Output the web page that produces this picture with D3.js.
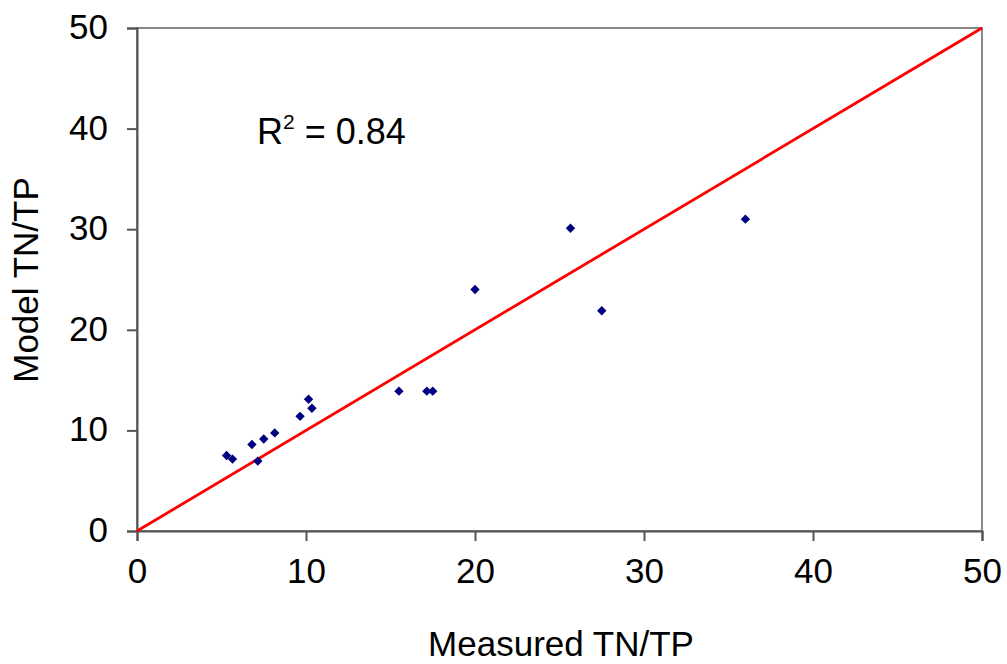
<!DOCTYPE html>
<html><head><meta charset="utf-8">
<script src="https://cdn.jsdelivr.net/npm/d3@7"></script>
<style>body{margin:0;background:#fff}text{font-family:"Liberation Sans",Arial,sans-serif}</style>
</head><body><svg id="c" width="1007" height="664"></svg>
<script>
const measured = [5.3, 5.65, 6.8, 7.15, 7.5, 8.15, 9.65, 10.15, 10.35, 15.5, 17.15, 17.5, 20.0, 25.65, 27.5, 36.0];
const model    = [7.5, 7.15, 8.6, 6.95, 9.15, 9.75, 11.4, 13.1, 12.2, 13.9, 13.9, 13.9, 24.0, 30.1, 21.9, 31.0];
const xTicks = [0, 10, 20, 30, 40, 50];
const yTicks = [0, 10, 20, 30, 40, 50];
const lineOneToOne = [0, 50];

const svg = d3.select("#c");
const L = 137, R = 982, T = 28, B = 531;
const x = d3.scaleLinear().domain([0, 50]).range([L, R]);
const y = d3.scaleLinear().domain([0, 50]).range([B, T]);

// border
svg.append("rect").attr("x", L).attr("y", T).attr("width", R - L).attr("height", B - T)
  .attr("fill", "none").attr("stroke", "#888").attr("stroke-width", 2);

const xa = svg.append("g").attr("transform", `translate(0,${B})`)
  .call(d3.axisBottom(x).tickValues(xTicks).tickSize(10).tickPadding(17));
const ya = svg.append("g").attr("transform", `translate(${L},0)`)
  .call(d3.axisLeft(y).tickValues(yTicks).tickSize(10).tickPadding(19));
[xa, ya].forEach(a => {
  a.select(".domain").attr("stroke", "#555").attr("stroke-width", 2);
  a.selectAll(".tick line").attr("stroke", "#555").attr("stroke-width", 2);
  a.selectAll("text").attr("font-size", 35).attr("fill", "#000")
   .style("font-family", '"Liberation Sans",Arial,sans-serif');
});
ya.selectAll("text").attr("dy", "0.3em");

// 1:1 line
svg.append("line").attr("x1", x(lineOneToOne[0])).attr("y1", y(lineOneToOne[0]))
  .attr("x2", x(lineOneToOne[1])).attr("y2", y(lineOneToOne[1]))
  .attr("stroke", "#ff0000").attr("stroke-width", 2.8);

// points (diamonds)
const sym = d3.symbol().type(d3.symbolSquare).size(44);
svg.append("g").selectAll("path").data(measured).join("path")
  .attr("d", sym)
  .attr("transform", (d, i) => `translate(${x(d)},${y(model[i])}) rotate(45)`)
  .attr("fill", "#000080");

// R2
const r = svg.append("text").attr("x", 257).attr("y", 144).attr("font-size", 36).attr("fill", "#000");
r.append("tspan").text("R");
r.append("tspan").attr("font-size", 21).attr("dy", -15).text("2");
r.append("tspan").attr("dy", 15).text(" = 0.84");

// axis titles
svg.append("text").attr("x", 561).attr("y", 656).attr("text-anchor", "middle")
  .attr("font-size", 35).text("Measured TN/TP");
svg.append("text").attr("transform", `translate(38,280) rotate(-90)`)
  .attr("text-anchor", "middle").attr("font-size", 35).text("Model TN/TP");
</script></body></html>
